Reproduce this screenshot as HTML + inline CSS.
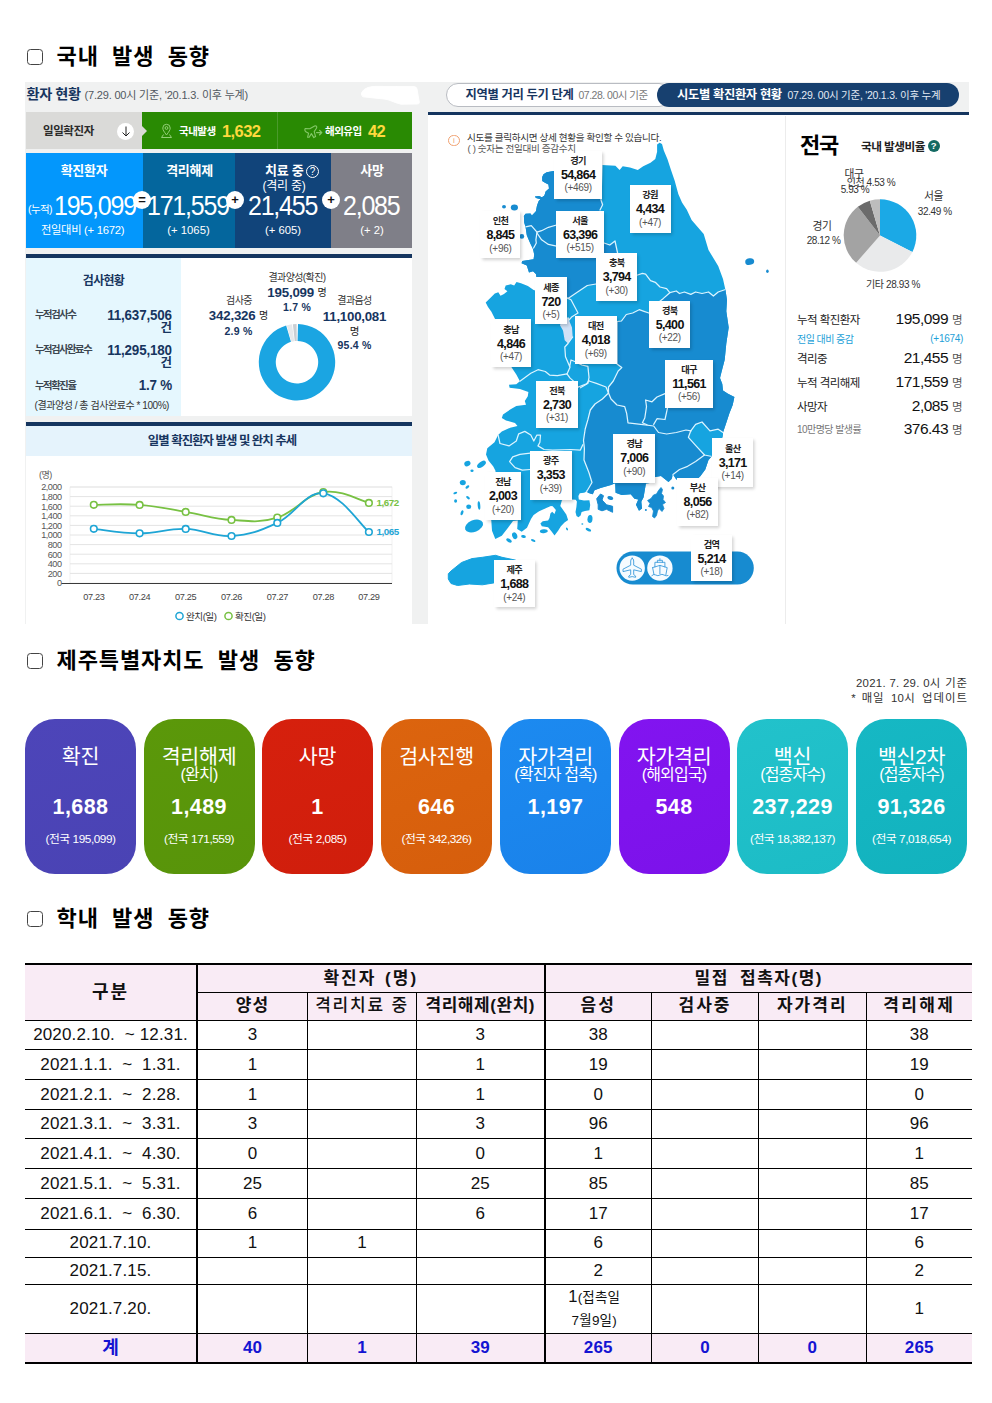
<!DOCTYPE html>
<html lang="ko">
<head>
<meta charset="utf-8">
<title>코로나19 발생 동향</title>
<style>
*{box-sizing:border-box;margin:0;padding:0}
html,body{width:992px;height:1403px;background:#fff;overflow:hidden}
body{position:relative;font-family:"Liberation Sans","Noto Sans CJK KR",sans-serif;color:#111;-webkit-font-smoothing:antialiased}
.abs{position:absolute}
.kr{font-family:"Liberation Sans","Noto Sans CJK KR",sans-serif}
/* headings */
.h{position:absolute;left:56.5px;font-size:22px;font-weight:700;letter-spacing:0.9px;word-spacing:6.3px;line-height:24px;color:#000;white-space:nowrap}
.cb{position:absolute;left:27px;width:16px;height:16px;border:1.3px solid #444;border-radius:3.5px;background:#fff}
/* top dashboard */
#dash{position:absolute;left:25px;top:82px;width:944px;height:542px;background:#f0f1f1;overflow:hidden}
#dash .t{position:absolute;white-space:nowrap;line-height:1}
.c{transform:translateX(-50%)}
/* cards */
.card{position:absolute;top:719px;width:111px;height:154.5px;border-radius:30px;color:#fff;text-align:center}
.card .ti{position:absolute;left:-20px;right:-20px;top:26px;font-size:20.6px;line-height:24px;letter-spacing:-0.3px}
.card .su{position:absolute;left:-20px;right:-20px;top:46px;font-size:16px;line-height:20px;letter-spacing:-0.8px}
.card .nu{position:absolute;left:-20px;right:-20px;top:75px;font-size:21.5px;font-weight:700;line-height:26px;letter-spacing:0.4px}
.card .na{position:absolute;left:-20px;right:-20px;top:113px;font-size:11.8px;line-height:14px;letter-spacing:-0.45px}
/* table */
#tb{position:absolute;left:25px;top:963px;width:947px;border-collapse:collapse;table-layout:fixed;font-size:17px;letter-spacing:0.15px;color:#111}
#tb td,#tb th{border:1px solid #000;text-align:center;vertical-align:middle;padding:0;line-height:20px;font-weight:400;white-space:nowrap;overflow:hidden}
#tb th{background:#f9ebf5;font-weight:700;font-size:17px;letter-spacing:1.2px}
#tb tr.tot td{background:#f9ebf5;color:#1414d2;font-weight:700}
#tb .bl{border-left:2px solid #000}
#tb .br{border-right:2px solid #000}
#tb td:first-child,#tb th:first-child{border-left:none}
#tb td:last-child,#tb th:last-child{border-right:none}
</style>
</head>
<body>

<!-- ===== Heading 1 ===== -->
<div class="cb" style="top:49px"></div>
<div class="h" style="top:44.5px">국내 발생 동향</div>

<!-- ===== Dashboard ===== -->
<div id="dash">
<div id="L" style="position:absolute;left:-25px;top:-82px;width:992px;height:800px">
<style>
#L .t{position:absolute;white-space:nowrap;line-height:1}
#L .w{color:#fff}
#L .nv{color:#17355f}
#L .big{font-size:27px;letter-spacing:-1.3px;color:#fff;font-weight:400;transform:scaleX(.925);transform-origin:left center;margin-top:1.5px;margin-left:-1.5px}
#L .circ{position:absolute;width:18px;height:18px;border-radius:50%;background:#fff;color:#111;font-weight:700;font-size:13px;line-height:17px;text-align:center}
</style>
<!-- white panels -->
<div class="abs" style="left:26px;top:257px;width:386px;height:159px;background:#fff"></div>
<div class="abs" style="left:26px;top:456px;width:386px;height:168px;background:#fff"></div>
<!-- header -->
<div class="t nv" style="left:26.5px;top:86.5px;font-size:14.2px;font-weight:700;letter-spacing:-0.4px">환자 현황</div>
<div class="t" style="left:84.5px;top:89.5px;font-size:11px;color:#505860;letter-spacing:-0.18px">(7.29. 00시 기준, '20.1.3. 이후 누계)</div>
<svg class="abs" style="left:336px;top:82px" width="90" height="28" viewBox="0 0 90 28"><path d="M25.5 11 Q27 7 32 5.5 Q36 4.3 40 4.4 L78 4.6 Q80.8 4.8 81 7 L82.2 14 L83.4 20.6 Q83.4 22 81 22 L65 22.2 Q60 21 56 19.2 Q52 17.4 48 17 L40 16.2 L27 14.8 Q25 14 25.5 11 Z" fill="#fff" stroke="#fff" stroke-width="1" stroke-linejoin="round"/></svg>
<!-- daily bar -->
<div class="abs" style="left:26px;top:112px;width:116px;height:36.6px;background:#dadad8"></div>
<div class="abs" style="left:142px;top:112px;width:270px;height:36.6px;background:#298a03"></div>
<div class="abs" style="left:142px;top:126px;width:0;height:0;border-top:5px solid transparent;border-bottom:5px solid transparent;border-left:5px solid #dadad8"></div>
<div class="abs" style="left:277px;top:112px;width:1px;height:36.6px;background:#4a9a2c"></div>
<div class="t" style="left:43px;top:125.5px;font-size:11.5px;font-weight:700;color:#2b2b2b;letter-spacing:-0.4px">일일확진자</div>
<div class="circ" style="left:117px;top:122.8px;width:17px;height:17px"></div><svg class="abs" style="left:120.5px;top:126px" width="10" height="11" viewBox="0 0 10 11" fill="none" stroke="#222" stroke-width="1"><path d="M5 0.5 V10 M1.5 6.5 L5 10 L8.5 6.5"/></svg>
<svg class="abs" style="left:160px;top:123px" width="13" height="16" viewBox="0 0 13 16" fill="none" stroke="#93cf78" stroke-width="1"><path d="M6.5 12 C4 8.5 2.8 7 2.8 5 A3.7 3.7 0 0 1 10.2 5 C10.2 7 9 8.5 6.5 12 Z"/><circle cx="6.5" cy="5" r="1.4"/><path d="M3.5 11.5 L1.5 14.5 H11.5 L9.5 11.5"/></svg>
<div class="t w" style="left:179px;top:126px;font-size:10.5px;font-weight:700;letter-spacing:-0.5px">국내발생</div>
<div class="t" style="left:222px;top:123px;font-size:16.5px;font-weight:700;color:#ffd93e;letter-spacing:-0.6px">1,632</div>
<svg class="abs" style="left:303.5px;top:124px" width="20" height="16" viewBox="0 0 20 16" fill="none" stroke="#84c868" stroke-width="1.1" stroke-linejoin="round" stroke-linecap="round"><path d="M1.2 4.6 L5.8 4.8 L10.6 2 Q13.2 1.4 12.6 4 L10.2 7.6 L11.6 12.6 L9.8 13.6 L7.4 9.6 L5.2 13.2 L3.6 13.2 L4.6 9.2 L1.4 7.4 Q0.4 6 1.2 4.6 Z"/><path d="M12.6 8.6 H17.6 M15.6 6.4 L17.8 8.6 L15.6 10.8" stroke-width="1.3"/></svg>
<div class="t w" style="left:325px;top:126px;font-size:10.5px;font-weight:700;letter-spacing:-0.5px">해외유입</div>
<div class="t" style="left:368px;top:123px;font-size:16.5px;font-weight:700;color:#ffd93e;letter-spacing:-0.6px">42</div>
<!-- four boxes -->
<div class="abs" style="left:26px;top:153px;width:116.7px;height:94.5px;background:#0397fc"></div>
<div class="abs" style="left:142.7px;top:153px;width:92.3px;height:94.5px;background:#04669d"></div>
<div class="abs" style="left:235px;top:153px;width:96px;height:94.5px;background:#11447a"></div>
<div class="abs" style="left:331px;top:153px;width:81px;height:94.5px;background:#7f7f88"></div>
<div class="t w c" style="left:84px;top:164px;font-size:13px;font-weight:700;letter-spacing:-0.3px">확진환자</div>
<div class="t w c" style="left:189.5px;top:164px;font-size:13px;font-weight:700;letter-spacing:-0.3px">격리해제</div>
<div class="t w" style="left:265px;top:164px;font-size:13px;font-weight:700;letter-spacing:-0.3px">치료 중</div>
<div class="abs" style="left:306px;top:165px;width:13px;height:13px;border:1px solid #fff;border-radius:50%;color:#fff;font-size:10px;line-height:11px;text-align:center">?</div>
<div class="t w c" style="left:284px;top:179.5px;font-size:12px;letter-spacing:-0.2px">(격리 중)</div>
<div class="t w c" style="left:372px;top:164px;font-size:13px;font-weight:700;letter-spacing:-0.3px">사망</div>
<div class="t w" style="left:28px;top:204px;font-size:10.5px;letter-spacing:-0.6px">(누적)</div>
<div class="t big" style="left:55.5px;top:191.5px">195,099</div>
<div class="t big" style="left:148.5px;top:191.5px">171,559</div>
<div class="t big" style="left:249px;top:191.5px">21,455</div>
<div class="t big" style="left:344px;top:191.5px">2,085</div>
<div class="t w c" style="left:82.5px;top:225px;font-size:11.3px;letter-spacing:-0.3px">전일대비 (+ 1672)</div>
<div class="t w c" style="left:188.5px;top:225px;font-size:11.3px">(+ 1065)</div>
<div class="t w c" style="left:283px;top:225px;font-size:11.3px">(+ 605)</div>
<div class="t w c" style="left:372px;top:225px;font-size:11.3px">(+ 2)</div>
<div class="circ" style="left:133px;top:191.2px">=</div>
<div class="circ" style="left:226px;top:191.2px">+</div>
<div class="circ" style="left:322px;top:191.2px">+</div>
<!-- navy rule + test box -->
<div class="abs" style="left:26px;top:254px;width:386px;height:3.5px;background:#15355f"></div>
<div class="abs" style="left:26px;top:257.5px;width:155px;height:158px;background:#e5f7fe"></div>
<div class="t nv c" style="left:103.5px;top:274.5px;font-size:12px;font-weight:700;letter-spacing:-0.7px">검사현황</div>
<div class="t" style="left:35px;top:310px;font-size:10.3px;font-weight:700;color:#3c4650;letter-spacing:-1.35px">누적검사수</div>
<div class="t nv" style="right:820px;top:306.5px;font-size:14.5px;font-weight:700;letter-spacing:-0.2px;transform:scaleX(.925);transform-origin:right center;margin-top:1px">11,637,506</div>
<div class="t nv" style="right:820px;top:321.5px;font-size:12.5px;font-weight:700">건</div>
<div class="t" style="left:35px;top:345px;font-size:10.3px;font-weight:700;color:#3c4650;letter-spacing:-1.45px">누적검사완료수</div>
<div class="t nv" style="right:820px;top:342px;font-size:14.5px;font-weight:700;letter-spacing:-0.2px;transform:scaleX(.925);transform-origin:right center;margin-top:1px">11,295,180</div>
<div class="t nv" style="right:820px;top:356.5px;font-size:12.5px;font-weight:700">건</div>
<div class="t" style="left:35px;top:380.5px;font-size:10.3px;font-weight:700;color:#3c4650;letter-spacing:-1.35px">누적확진율</div>
<div class="t nv" style="right:820px;top:377.5px;font-size:14.5px;font-weight:700;letter-spacing:-0.2px;transform:scaleX(.925);transform-origin:right center;margin-top:0px">1.7 %</div>
<div class="t" style="left:34.5px;top:400.5px;font-size:10px;color:#333;letter-spacing:-0.45px">(결과양성 / 총 검사완료수 * 100%)</div>
<svg class="abs" style="left:0;top:0" width="992" height="700" viewBox="0 0 992 700"><path d="M298.00 324.01 A38.2 38.2 0 1 1 286.15 325.57 L290.98 341.87 A21.2 21.2 0 1 0 297.55 341.01 Z" fill="#1ba5e2"/><path d="M286.79 325.39 A38.2 38.2 0 0 1 292.01 324.33 L294.23 341.18 A21.2 21.2 0 0 0 291.33 341.77 Z" fill="#e6e9ec"/><path d="M292.87 324.22 A38.2 38.2 0 0 1 296.60 324.00 L296.78 341.00 A21.2 21.2 0 0 0 294.71 341.12 Z" fill="#c9ced3"/></svg>
<div class="t c" style="left:297px;top:272.5px;font-size:10px;color:#333;letter-spacing:-0.6px">결과양성(확진)</div>
<div class="t nv c" style="left:297px;top:285.5px;font-size:13.3px;font-weight:700;letter-spacing:-0.2px">195,099 <span style="font-size:10px;font-weight:400;color:#222;letter-spacing:0;position:relative;top:-1px">명</span></div>
<div class="t nv c" style="left:297px;top:302px;font-size:10.5px;font-weight:700;letter-spacing:0.2px">1.7 %</div>
<div class="t c" style="left:239px;top:296px;font-size:10px;color:#333;letter-spacing:-0.6px">검사중</div>
<div class="t nv c" style="left:238.5px;top:309px;font-size:13.3px;font-weight:700;letter-spacing:-0.2px">342,326 <span style="font-size:10px;font-weight:400;color:#222;letter-spacing:0;position:relative;top:-1px">명</span></div>
<div class="t nv c" style="left:238.5px;top:326px;font-size:10.5px;font-weight:700;letter-spacing:0.2px">2.9 %</div>
<div class="t c" style="left:354.5px;top:296px;font-size:10px;color:#333;letter-spacing:-0.6px">결과음성</div>
<div class="t nv c" style="left:354.5px;top:309.5px;font-size:13.3px;font-weight:700;letter-spacing:-0.25px">11,100,081</div>
<div class="t c" style="left:354.5px;top:326px;font-size:10.5px;color:#222">명</div>
<div class="t nv c" style="left:354.5px;top:339.5px;font-size:10.5px;font-weight:700;letter-spacing:0.2px">95.4 %</div>

<!-- chart title -->
<div class="abs" style="left:26px;top:421.7px;width:386px;height:4px;background:#15355f"></div>
<div class="abs" style="left:26px;top:425.7px;width:386px;height:30.4px;background:#e5f3fc"></div>
<div class="t nv c" style="left:222px;top:434.6px;font-size:12.4px;font-weight:700;letter-spacing:-0.95px">일별 확진환자 발생 및 완치 추세</div>
<!--CHART_START--><svg class="abs" style="left:0;top:0" width="992" height="700" viewBox="0 0 992 700" font-family="Liberation Sans, Noto Sans CJK KR, sans-serif"><rect x="70" y="487.0" width="322" height="96.0" fill="#fff" stroke="#e6e6e6" stroke-width="0.6"/><line x1="70" x2="392" y1="573.4" y2="573.4" stroke="#e4e4e4" stroke-width="1"/><line x1="70" x2="392" y1="563.8" y2="563.8" stroke="#e4e4e4" stroke-width="1"/><line x1="70" x2="392" y1="554.2" y2="554.2" stroke="#e4e4e4" stroke-width="1"/><line x1="70" x2="392" y1="544.6" y2="544.6" stroke="#e4e4e4" stroke-width="1"/><line x1="70" x2="392" y1="535.0" y2="535.0" stroke="#e4e4e4" stroke-width="1"/><line x1="70" x2="392" y1="525.4" y2="525.4" stroke="#e4e4e4" stroke-width="1"/><line x1="70" x2="392" y1="515.8" y2="515.8" stroke="#e4e4e4" stroke-width="1"/><line x1="70" x2="392" y1="506.2" y2="506.2" stroke="#e4e4e4" stroke-width="1"/><line x1="70" x2="392" y1="496.6" y2="496.6" stroke="#e4e4e4" stroke-width="1"/><line x1="70" x2="392" y1="487.0" y2="487.0" stroke="#e4e4e4" stroke-width="1"/><text x="61.5" y="586.3" font-size="9.1" fill="#555" text-anchor="end" letter-spacing="-0.5">0</text><text x="61.5" y="576.7" font-size="9.1" fill="#555" text-anchor="end" letter-spacing="-0.5">200</text><text x="61.5" y="567.1" font-size="9.1" fill="#555" text-anchor="end" letter-spacing="-0.5">400</text><text x="61.5" y="557.5" font-size="9.1" fill="#555" text-anchor="end" letter-spacing="-0.5">600</text><text x="61.5" y="547.9" font-size="9.1" fill="#555" text-anchor="end" letter-spacing="-0.5">800</text><text x="61.5" y="538.3" font-size="9.1" fill="#555" text-anchor="end" letter-spacing="-0.5">1,000</text><text x="61.5" y="528.7" font-size="9.1" fill="#555" text-anchor="end" letter-spacing="-0.5">1,200</text><text x="61.5" y="519.1" font-size="9.1" fill="#555" text-anchor="end" letter-spacing="-0.5">1,400</text><text x="61.5" y="509.5" font-size="9.1" fill="#555" text-anchor="end" letter-spacing="-0.5">1,600</text><text x="61.5" y="499.9" font-size="9.1" fill="#555" text-anchor="end" letter-spacing="-0.5">1,800</text><text x="61.5" y="490.3" font-size="9.1" fill="#555" text-anchor="end" letter-spacing="-0.5">2,000</text><line x1="61.5" x2="392" y1="583.5" y2="583.5" stroke="#3a3a3a" stroke-width="1"/><text x="39" y="478" font-size="9" fill="#555" letter-spacing="-0.5">(명)</text><text x="93.8" y="600.2" font-size="9.2" fill="#444" text-anchor="middle" letter-spacing="-0.35">07.23</text><text x="139.6" y="600.2" font-size="9.2" fill="#444" text-anchor="middle" letter-spacing="-0.35">07.24</text><text x="185.7" y="600.2" font-size="9.2" fill="#444" text-anchor="middle" letter-spacing="-0.35">07.25</text><text x="231.5" y="600.2" font-size="9.2" fill="#444" text-anchor="middle" letter-spacing="-0.35">07.26</text><text x="277.3" y="600.2" font-size="9.2" fill="#444" text-anchor="middle" letter-spacing="-0.35">07.27</text><text x="323.3" y="600.2" font-size="9.2" fill="#444" text-anchor="middle" letter-spacing="-0.35">07.28</text><text x="368.9" y="600.2" font-size="9.2" fill="#444" text-anchor="middle" letter-spacing="-0.35">07.29</text><path d="M93.8 504.8 C103.0 504.8 121.2 503.4 139.6 504.9 C158.0 506.3 167.3 508.8 185.7 511.9 C204.1 514.9 213.2 518.8 231.5 519.9 C249.8 521.1 258.9 523.2 277.3 517.6 C295.7 512.0 305.0 494.9 323.3 492.0 C341.6 489.1 359.8 500.7 368.9 502.9" fill="none" stroke="#78c143" stroke-width="1.8"/><path d="M93.8 528.8 C103.0 529.7 121.2 533.3 139.6 533.3 C158.0 533.3 167.3 528.3 185.7 528.9 C204.1 529.4 213.2 537.2 231.5 536.0 C249.8 534.8 258.9 531.4 277.3 522.9 C295.7 514.4 305.0 491.5 323.3 493.3 C341.6 495.2 359.8 524.2 368.9 532.0" fill="none" stroke="#1ea5d5" stroke-width="1.8"/><circle cx="93.8" cy="504.8" r="3.3" fill="#fff" stroke="#78c143" stroke-width="1.6"/><circle cx="139.6" cy="504.9" r="3.3" fill="#fff" stroke="#78c143" stroke-width="1.6"/><circle cx="185.7" cy="511.9" r="3.3" fill="#fff" stroke="#78c143" stroke-width="1.6"/><circle cx="231.5" cy="519.9" r="3.3" fill="#fff" stroke="#78c143" stroke-width="1.6"/><circle cx="277.3" cy="517.6" r="3.3" fill="#fff" stroke="#78c143" stroke-width="1.6"/><circle cx="323.3" cy="492.0" r="3.3" fill="#fff" stroke="#78c143" stroke-width="1.6"/><circle cx="368.9" cy="502.9" r="3.3" fill="#fff" stroke="#78c143" stroke-width="1.6"/><circle cx="93.8" cy="528.8" r="3.3" fill="#fff" stroke="#1ea5d5" stroke-width="1.6"/><circle cx="139.6" cy="533.3" r="3.3" fill="#fff" stroke="#1ea5d5" stroke-width="1.6"/><circle cx="185.7" cy="528.9" r="3.3" fill="#fff" stroke="#1ea5d5" stroke-width="1.6"/><circle cx="231.5" cy="536.0" r="3.3" fill="#fff" stroke="#1ea5d5" stroke-width="1.6"/><circle cx="277.3" cy="522.9" r="3.3" fill="#fff" stroke="#1ea5d5" stroke-width="1.6"/><circle cx="323.3" cy="493.3" r="3.3" fill="#fff" stroke="#1ea5d5" stroke-width="1.6"/><circle cx="368.9" cy="532.0" r="3.3" fill="#fff" stroke="#1ea5d5" stroke-width="1.6"/><text x="376.5" y="505.6" font-size="9.8" font-weight="700" fill="#78c143" letter-spacing="-0.45">1,672</text><text x="376.5" y="534.7" font-size="9.8" font-weight="700" fill="#1ea5d5" letter-spacing="-0.45">1,065</text><circle cx="179.5" cy="616" r="3.6" fill="#fff" stroke="#1ea5d5" stroke-width="1.5"/><text x="186" y="619.6" font-size="9.6" fill="#333" letter-spacing="-0.5">완치(일)</text><circle cx="228.5" cy="616" r="3.6" fill="#fff" stroke="#78c143" stroke-width="1.5"/><text x="235" y="619.6" font-size="9.6" fill="#333" letter-spacing="-0.5">확진(일)</text></svg><!--CHART_END-->

</div>

<!--RIGHT_START--><div id="R" style="position:absolute;left:-25px;top:-82px;width:992px;height:800px">
<div class="abs" style="left:428.4px;top:112px;width:540.6px;height:512px;background:#fff"></div>
<div class="abs" style="left:428.4px;top:111.7px;width:540.6px;height:3.6px;background:#15355f"></div>
<div class="abs" style="left:784.5px;top:116px;width:1px;height:508px;background:#ececec"></div>
<div class="abs" style="left:446px;top:83px;width:225px;height:23.5px;border:1px solid #b9bcc2;border-radius:12px;background:#fff"></div>
<div class="abs" style="left:656.5px;top:82.5px;width:302px;height:24.3px;border-radius:12.2px;background:#17406f"></div>
<style>
#R .t{position:absolute;white-space:nowrap;line-height:1}
#R .lb{position:absolute;background:#fff;box-shadow:1.5px 2px 3px rgba(0,0,0,.18);text-align:center}
#R .lb b{display:block;font-size:9.2px;font-weight:700;line-height:11px;margin-top:5.2px;color:#222;letter-spacing:-0.7px}
#R .lb i{display:block;font-style:normal;font-size:12.5px;font-weight:700;line-height:14px;margin-top:1.1px;color:#111;letter-spacing:-0.65px}
#R .lb s{display:block;text-decoration:none;font-size:10px;line-height:12px;margin-top:0.3px;color:#555;letter-spacing:-0.3px}
#R .sl{position:absolute;left:797px;font-size:11.5px;color:#222;letter-spacing:-0.55px;white-space:nowrap;line-height:1}
#R .sv{position:absolute;right:29.5px;font-size:15.5px;color:#111;letter-spacing:-0.5px;white-space:nowrap;line-height:1}
#R .sv span{font-size:11.5px;color:#555;letter-spacing:0;margin-left:0px}
</style>
<svg class="abs" style="left:0;top:0" width="992" height="700" viewBox="0 0 992 700">
<defs><clipPath id="mc"><path d="M542.2 177.1 L543.5 174.3 L546.7 172.3 L553.5 171.0 L575.0 168.0 L602.0 165.0 L615.4 165.7 L619.6 170.0 L622.7 166.3 L630.0 167.5 L637.8 170.0 L643.2 166.3 L650.5 162.7 L655.3 159.0 L657.1 151.8 L657.1 144.5 L659.6 142.7 L662.0 144.0 L663.8 150.6 L667.4 159.0 L671.0 170.0 L674.7 180.8 L678.3 194.0 L682.0 202.6 L686.8 209.8 L691.6 220.0 L703.7 233.9 L708.5 250.0 L718.2 266.0 L723.0 279.0 L725.5 290.3 L727.0 300.0 L726.3 311.3 L728.7 327.4 L726.3 343.5 L724.7 359.7 L721.5 372.0 L720.0 378.0 L722.3 384.0 L723.0 390.5 L728.0 393.7 L734.4 397.0 L732.7 405.0 L729.5 413.0 L726.3 422.8 L723.0 432.5 L722.3 437.3 L718.0 448.0 L712.0 456.0 L708.5 459.9 L705.3 469.5 L700.5 476.0 L697.0 479.5 L692.0 484.0 L686.0 480.0 L676.3 479.5 L673.0 474.5 L671.6 479.0 L668.5 482.0 L661.0 476.0 L655.2 477.0 L650.0 483.0 L645.9 483.6 L643.6 497.2 L641.3 501.8 L642.0 508.6 L639.0 510.8 L636.0 504.8 L638.3 499.5 L634.5 498.7 L630.7 494.2 L621.7 495.0 L615.6 492.7 L615.2 483.3 L611.0 485.0 L600.5 488.0 L594.5 490.3 L592.8 494.3 L589.0 493.2 L586.3 491.8 L584.0 492.7 L579.8 493.2 L578.4 496.0 L578.8 499.4 L584.0 500.4 L589.4 500.2 L590.2 505.0 L589.4 510.3 L585.0 511.0 L581.6 512.0 L580.6 515.5 L578.5 517.3 L576.5 516.0 L575.5 512.0 L576.4 507.0 L576.9 501.5 L575.6 499.7 L571.8 499.5 L566.0 499.0 L561.9 500.3 L560.3 506.0 L566.3 514.5 L568.1 520.0 L564.5 522.6 L560.9 526.3 L558.1 530.8 L554.5 535.4 L551.8 531.7 L548.1 527.2 L541.8 526.3 L540.4 523.6 L542.7 521.3 L548.1 520.4 L549.5 518.1 L550.4 513.6 L552.2 511.8 L554.5 514.0 L555.9 510.0 L552.7 506.3 L550.9 505.9 L546.3 508.1 L539.1 511.3 L533.6 514.9 L531.0 519.0 L527.0 527.8 L521.7 531.7 L517.2 529.0 L517.8 520.6 L513.0 521.0 L508.2 527.6 L501.8 535.7 L495.3 539.0 L492.0 530.8 L491.3 520.4 L488.0 512.0 L490.0 500.0 L487.0 485.0 L495.7 471.3 L493.3 466.4 L488.5 460.4 L486.0 454.4 L487.3 448.3 L494.5 442.3 L498.1 435.0 L501.8 431.4 L510.2 427.7 L517.5 426.0 L515.0 423.0 L506.0 420.5 L501.8 418.0 L503.0 414.4 L510.2 409.6 L516.3 406.0 L526.0 404.8 L524.8 401.1 L527.8 396.3 L528.4 392.0 L519.9 389.0 L509.6 387.8 L509.0 384.8 L516.3 384.2 L519.9 381.2 L516.3 374.5 L512.0 367.9 L504.0 355.0 L498.0 340.0 L495.3 319.4 L491.4 311.7 L488.0 307.1 L485.7 302.6 L490.3 298.0 L494.8 293.5 L498.3 292.3 L500.5 295.7 L504.0 294.0 L507.4 291.2 L504.5 288.9 L505.7 285.5 L510.8 284.3 L514.2 285.5 L516.5 282.0 L521.0 283.2 L527.9 286.0 L533.6 290.0 L537.0 291.0 L539.0 285.0 L536.5 277.5 L535.9 274.1 L533.0 271.2 L529.0 272.4 L526.8 265.5 L521.6 263.2 L522.2 260.9 L533.6 259.2 L534.2 254.6 L533.0 249.0 L530.2 243.3 L526.8 235.3 L525.6 227.3 L524.2 222.5 L523.9 216.0 L525.5 213.8 L530.5 213.6 L531.9 215.5 L535.9 211.3 L537.0 205.6 L538.7 201.0 L540.5 199.2 L536.0 198.0 L534.8 196.6 L539.0 196.0 L542.0 197.2 L544.4 195.4 L545.6 191.4 L549.0 188.5 L548.4 184.5 L545.0 182.8 L542.2 181.1 Z"/></clipPath></defs>
<path d="M542.2 177.1 L543.5 174.3 L546.7 172.3 L553.5 171.0 L575.0 168.0 L602.0 165.0 L615.4 165.7 L619.6 170.0 L622.7 166.3 L630.0 167.5 L637.8 170.0 L643.2 166.3 L650.5 162.7 L655.3 159.0 L657.1 151.8 L657.1 144.5 L659.6 142.7 L662.0 144.0 L663.8 150.6 L667.4 159.0 L671.0 170.0 L674.7 180.8 L678.3 194.0 L682.0 202.6 L686.8 209.8 L691.6 220.0 L703.7 233.9 L708.5 250.0 L718.2 266.0 L723.0 279.0 L725.5 290.3 L727.0 300.0 L726.3 311.3 L728.7 327.4 L726.3 343.5 L724.7 359.7 L721.5 372.0 L720.0 378.0 L722.3 384.0 L723.0 390.5 L728.0 393.7 L734.4 397.0 L732.7 405.0 L729.5 413.0 L726.3 422.8 L723.0 432.5 L722.3 437.3 L718.0 448.0 L712.0 456.0 L708.5 459.9 L705.3 469.5 L700.5 476.0 L697.0 479.5 L692.0 484.0 L686.0 480.0 L676.3 479.5 L673.0 474.5 L671.6 479.0 L668.5 482.0 L661.0 476.0 L655.2 477.0 L650.0 483.0 L645.9 483.6 L643.6 497.2 L641.3 501.8 L642.0 508.6 L639.0 510.8 L636.0 504.8 L638.3 499.5 L634.5 498.7 L630.7 494.2 L621.7 495.0 L615.6 492.7 L615.2 483.3 L611.0 485.0 L600.5 488.0 L594.5 490.3 L592.8 494.3 L589.0 493.2 L586.3 491.8 L584.0 492.7 L579.8 493.2 L578.4 496.0 L578.8 499.4 L584.0 500.4 L589.4 500.2 L590.2 505.0 L589.4 510.3 L585.0 511.0 L581.6 512.0 L580.6 515.5 L578.5 517.3 L576.5 516.0 L575.5 512.0 L576.4 507.0 L576.9 501.5 L575.6 499.7 L571.8 499.5 L566.0 499.0 L561.9 500.3 L560.3 506.0 L566.3 514.5 L568.1 520.0 L564.5 522.6 L560.9 526.3 L558.1 530.8 L554.5 535.4 L551.8 531.7 L548.1 527.2 L541.8 526.3 L540.4 523.6 L542.7 521.3 L548.1 520.4 L549.5 518.1 L550.4 513.6 L552.2 511.8 L554.5 514.0 L555.9 510.0 L552.7 506.3 L550.9 505.9 L546.3 508.1 L539.1 511.3 L533.6 514.9 L531.0 519.0 L527.0 527.8 L521.7 531.7 L517.2 529.0 L517.8 520.6 L513.0 521.0 L508.2 527.6 L501.8 535.7 L495.3 539.0 L492.0 530.8 L491.3 520.4 L488.0 512.0 L490.0 500.0 L487.0 485.0 L495.7 471.3 L493.3 466.4 L488.5 460.4 L486.0 454.4 L487.3 448.3 L494.5 442.3 L498.1 435.0 L501.8 431.4 L510.2 427.7 L517.5 426.0 L515.0 423.0 L506.0 420.5 L501.8 418.0 L503.0 414.4 L510.2 409.6 L516.3 406.0 L526.0 404.8 L524.8 401.1 L527.8 396.3 L528.4 392.0 L519.9 389.0 L509.6 387.8 L509.0 384.8 L516.3 384.2 L519.9 381.2 L516.3 374.5 L512.0 367.9 L504.0 355.0 L498.0 340.0 L495.3 319.4 L491.4 311.7 L488.0 307.1 L485.7 302.6 L490.3 298.0 L494.8 293.5 L498.3 292.3 L500.5 295.7 L504.0 294.0 L507.4 291.2 L504.5 288.9 L505.7 285.5 L510.8 284.3 L514.2 285.5 L516.5 282.0 L521.0 283.2 L527.9 286.0 L533.6 290.0 L537.0 291.0 L539.0 285.0 L536.5 277.5 L535.9 274.1 L533.0 271.2 L529.0 272.4 L526.8 265.5 L521.6 263.2 L522.2 260.9 L533.6 259.2 L534.2 254.6 L533.0 249.0 L530.2 243.3 L526.8 235.3 L525.6 227.3 L524.2 222.5 L523.9 216.0 L525.5 213.8 L530.5 213.6 L531.9 215.5 L535.9 211.3 L537.0 205.6 L538.7 201.0 L540.5 199.2 L536.0 198.0 L534.8 196.6 L539.0 196.0 L542.0 197.2 L544.4 195.4 L545.6 191.4 L549.0 188.5 L548.4 184.5 L545.0 182.8 L542.2 181.1 Z" fill="#16a4e0"/>
<g clip-path="url(#mc)"><path d="M530.0 150.0 L602.0 150.0 L602.0 165.0 L601.0 200.0 L602.6 204.8 L600.0 210.0 L602.0 230.0 L604.0 243.0 L609.8 245.0 L615.0 241.0 L618.0 255.0 L615.0 262.0 L605.0 275.0 L596.0 284.0 L587.3 285.5 L577.6 292.0 L568.0 298.4 L555.0 292.0 L545.0 283.0 L536.5 278.0 L515.0 280.0 L515.0 150.0 Z" fill="#178bd0"/><path d="M740.0 289.5 L725.5 289.5 L718.2 292.0 L713.4 296.0 L708.5 292.0 L702.0 293.5 L695.6 292.0 L690.8 294.4 L684.4 292.0 L679.5 293.5 L676.3 291.0 L669.8 292.7 L663.4 298.4 L655.0 305.0 L648.9 313.0 L644.0 311.3 L639.2 309.7 L632.7 313.0 L626.3 314.5 L621.5 321.0 L617.0 321.5 L617.0 364.0 L621.8 367.6 L618.2 371.0 L613.3 381.0 L608.5 387.0 L608.5 393.0 L602.4 399.0 L595.0 404.0 L590.3 410.0 L587.9 419.7 L585.2 429.0 L583.5 440.3 L584.4 448.4 L584.0 460.0 L589.0 472.8 L592.0 482.5 L587.3 490.5 L586.3 491.8 L589.0 493.2 L592.8 495.0 L592.8 545.0 L760.0 545.0 L760.0 289.5 Z" fill="#178bd0"/><path d="M690.8 430.8 L695.6 424.4 L702.0 422.0 L710.0 430.8 L718.2 429.2 L723.0 432.5 L724.0 438.0 L719.0 448.0 L713.0 457.0 L704.5 455.0 L695.6 445.4 L688.4 437.3 Z" fill="#16a4e0"/><path d="M559.8 325.0 L563.0 321.0 L568.0 317.7 L572.0 327.4 L572.7 337.0 L568.0 343.5 L564.7 340.3 L563.0 330.6 Z" fill="#cfe1f6"/>
<g fill="none" stroke="#dcf4ff" stroke-width="1.25" stroke-linejoin="round" stroke-linecap="round"><path d="M725.5 289.5 L718.2 292.0 L713.4 296.0 L708.5 292.0 L702.0 293.5 L695.6 292.0 L690.8 294.4 L684.4 292.0 L679.5 293.5 L676.3 291.0 L669.8 292.7 L663.4 298.4 L655.0 305.0"/><path d="M669.8 292.7 L666.6 288.7 L660.0 287.0 L655.3 282.3 L650.5 280.6 L645.6 274.2 L642.4 273.4 L637.6 275.0"/><path d="M648.9 313.0 L644.0 311.3 L639.2 309.7 L632.7 313.0 L626.3 314.5 L621.5 321.0 L617.0 321.5 L617.0 364.0 L621.8 367.6 L618.2 371.0 L613.3 381.0 L608.5 387.0 L608.5 393.0"/><path d="M608.5 393.0 L602.4 399.0 L595.0 404.0 L590.3 410.0 L587.9 419.7 L585.2 429.0 L583.5 440.3 L584.4 448.4 L584.0 460.0 L589.0 472.8 L592.0 482.5 L587.3 490.5 L586.3 491.8"/><path d="M608.5 393.0 L611.0 399.0 L617.0 405.0 L624.7 406.6 L626.7 413.6 L628.0 422.8 L640.8 424.4 L653.7 426.0 L658.5 432.5 L666.6 434.0 L676.3 432.5 L686.0 430.0 L690.8 430.8"/><path d="M690.8 430.8 L695.6 424.4 L702.0 422.0 L710.0 430.8 L718.2 429.2 L723.0 432.5"/><path d="M690.8 430.8 L688.4 437.3 L695.6 445.4 L704.5 455.0 L712.0 456.5"/><path d="M704.5 455.0 L695.6 461.5 L687.6 466.3 L679.5 469.5 L673.0 474.4 L672.5 481.0"/><path d="M665.0 393.7 L657.0 397.0 L652.0 401.8 L645.6 400.0 L646.5 406.6 L644.8 418.0 L642.4 422.8 L647.0 424.8"/><path d="M653.7 424.4 L657.0 418.7 L665.0 419.5 L667.4 408.3"/><path d="M536.5 278.0 L545.0 283.0 L555.0 292.0 L568.0 298.4 L577.6 292.0 L587.3 285.5 L596.0 284.0"/><path d="M602.0 165.0 L601.0 200.0 L602.6 204.8 L600.0 210.0"/><path d="M604.0 243.0 L609.8 245.0 L615.0 241.0 L618.0 255.0"/><path d="M568.0 298.4 L571.0 299.7 L578.0 313.0 L572.0 316.7 L569.0 320.0 L568.0 317.7"/><path d="M572.7 337.0 L568.0 343.5 L564.8 347.0 L565.5 356.7 L569.7 366.4 L571.0 360.0 L576.0 362.0 L581.8 365.0 L587.9 366.4 L589.0 377.3 L587.9 383.3 L578.2 387.0"/><path d="M589.0 381.0 L596.4 383.3 L606.0 387.0 L608.5 393.0"/><path d="M519.9 381.2 L530.8 373.3 L538.0 369.7 L545.3 371.5 L549.6 375.1 L557.4 375.7 L567.0 373.9 L570.1 378.1 L573.0 380.6 L578.2 387.0"/><path d="M567.0 373.9 L570.0 367.3 L569.7 366.4"/><path d="M580.4 387.8 L586.4 384.2 L588.9 380.6"/><path d="M498.1 435.0 L500.0 443.5 L509.0 445.9 L516.3 441.0 L518.7 433.8 L524.8 431.4 L530.8 435.0 L533.8 441.0 L536.9 435.0 L540.5 435.0 L539.9 442.3 L538.0 445.9 L544.1 449.5 L552.6 450.1 L570.7 449.5 L580.4 450.1 L582.8 444.7"/><path d="M530.2 453.1 L519.9 454.4 L512.7 456.8 L509.6 461.6 L515.1 467.7 L522.3 470.1 L530.2 469.5"/><path d="M525.6 226.9 L531.3 225.6 L537.0 232.2 L541.6 230.7 L548.4 227.3 L556.5 225.0"/><path d="M537.0 232.2 L535.9 239.8 L536.3 243.0 L533.6 248.0"/><path d="M537.0 233.0 L541.6 239.8 L548.4 244.4 L556.5 246.2"/></g></g>
<ellipse cx="504" cy="206.8" rx="2" ry="1.7" fill="#178bd0"/><ellipse cx="514.4" cy="207.6" rx="3.6" ry="3" fill="#178bd0"/><ellipse cx="521.8" cy="236.4" rx="2.4" ry="2.4" fill="#178bd0"/><ellipse cx="749.7" cy="261.6" rx="4.5" ry="3.3" fill="#178bd0" transform="rotate(-10 749.7 261.6)"/><ellipse cx="767.4" cy="271.3" rx="1.3" ry="1.8" fill="#178bd0"/><ellipse cx="467.4" cy="463.6" rx="3.2" ry="2.6" fill="#16a4e0" transform="rotate(-30 467.4 463.6)"/><ellipse cx="481.5" cy="464.3" rx="5" ry="2.6" fill="#16a4e0" transform="rotate(-35 481.5 464.3)"/><ellipse cx="472" cy="470.8" rx="1.6" ry="1.2" fill="#16a4e0"/><ellipse cx="462.8" cy="482.6" rx="3" ry="2.6" fill="#16a4e0"/><ellipse cx="467.4" cy="487" rx="2.2" ry="1.3" fill="#16a4e0" transform="rotate(-40 467.4 487)"/><ellipse cx="455.3" cy="493" rx="2" ry="1" fill="#16a4e0" transform="rotate(-20 455.3 493)"/><ellipse cx="455.6" cy="501" rx="1.5" ry="1.8" fill="#16a4e0"/><ellipse cx="468" cy="497.7" rx="2.2" ry="1.2" fill="#16a4e0" transform="rotate(40 468 497.7)"/><ellipse cx="468.7" cy="506.8" rx="2.5" ry="2.2" fill="#16a4e0"/><ellipse cx="462" cy="512.7" rx="1.3" ry="2.6" fill="#16a4e0" transform="rotate(20 462 512.7)"/><ellipse cx="479" cy="505.5" rx="1.3" ry="4.2" fill="#16a4e0" transform="rotate(-5 479 505.5)"/><ellipse cx="474" cy="526" rx="9.5" ry="5.8" fill="#16a4e0" transform="rotate(-22 474 526)"/><ellipse cx="514.7" cy="535.7" rx="2.5" ry="3.5" fill="#16a4e0" transform="rotate(-20 514.7 535.7)"/><ellipse cx="509" cy="540.5" rx="3" ry="1.6" fill="#16a4e0" transform="rotate(30 509 540.5)"/><ellipse cx="523.5" cy="536.5" rx="2.4" ry="1.4" fill="#16a4e0" transform="rotate(10 523.5 536.5)"/><ellipse cx="533.2" cy="540.5" rx="2.4" ry="1.2" fill="#16a4e0" transform="rotate(25 533.2 540.5)"/><ellipse cx="543.8" cy="531.2" rx="4" ry="2" fill="#16a4e0" transform="rotate(-5 543.8 531.2)"/><ellipse cx="567" cy="529" rx="0.8" ry="1.5" fill="#16a4e0" transform="rotate(-30 567 529)"/><ellipse cx="590" cy="519" rx="2.5" ry="4" fill="#16a4e0" transform="rotate(5 590 519)"/><ellipse cx="582.3" cy="524" rx="1" ry="0.8" fill="#16a4e0"/><ellipse cx="588.4" cy="529.7" rx="3" ry="1.4" fill="#16a4e0" transform="rotate(25 588.4 529.7)"/><ellipse cx="589" cy="519.5" rx="1.2" ry="1.2" fill="#16a4e0"/><ellipse cx="610.3" cy="498" rx="3" ry="1.8" fill="#178bd0" transform="rotate(20 610.3 498)"/><ellipse cx="645.9" cy="510" rx="1" ry="1" fill="#178bd0"/><ellipse cx="672.8" cy="488" rx="1.5" ry="1.5" fill="#178bd0"/><path d="M596.7 498.7 L600.5 494.0 L603.5 495.7 L602.0 500.0 L606.5 504.8 L612.6 506.3 L612.6 512.3 L606.5 509.3 L602.0 510.8 L598.2 509.3 L598.2 504.8 Z" fill="#178bd0" stroke="#178bd0" stroke-width="1" stroke-linejoin="round"/><path d="M647.6 500.5 L651.0 498.5 L653.5 495.0 L656.5 494.0 L658.5 490.5 L661.0 487.5 L662.5 489.5 L661.5 493.5 L663.5 496.0 L663.0 499.5 L665.5 502.5 L662.5 504.5 L664.0 508.5 L662.0 511.5 L659.0 508.5 L657.5 511.0 L656.5 515.5 L654.5 518.0 L652.5 516.5 L653.5 511.0 L651.5 507.5 L648.5 506.5 L650.0 503.5 Z" fill="#178bd0" stroke="#178bd0" stroke-width="0.8" stroke-linejoin="round"/>
<path d="M448.3 573.7 L451.0 571.0 L461.5 562.5 L472.0 558.6 L482.4 557.3 L495.5 555.3 L502.0 557.3 L515.0 560.0 L530.0 566.0 L533.0 574.0 L520.0 582.0 L493.8 582.9 L482.4 584.8 L469.3 584.0 L457.5 585.5 L451.0 583.5 L448.3 579.0 Z" fill="#16a4e0" stroke="#16a4e0" stroke-width="1" stroke-linejoin="round"/>
<rect x="616.5" y="551.6" width="137.3" height="32.9" rx="16.4" fill="#178bd0"/><circle cx="632.2" cy="568.1" r="12.7" fill="#f6fbff"/><circle cx="659.9" cy="568.1" r="12.7" fill="#f6fbff"/><g fill="none" stroke="#3b9bdb" stroke-width="0.9" stroke-linejoin="round" stroke-linecap="round"><path d="M632.2 558.2 Q633.7 558.6 633.7 561 L633.7 565.2 L641.4 569.2 L641.4 571.6 L633.7 569.8 L633.7 574.6 L635.6 576 L635.6 577.3 L632.2 576.6 L628.8 577.3 L628.8 576 L630.7 574.6 L630.7 569.8 L623 571.6 L623 569.2 L630.7 565.2 L630.7 561 Q630.7 558.6 632.2 558.2 Z"/><path d="M652.6 567.6 L659.9 565.4 L667.2 567.6 L665.9 574.6 M654 574.6 L652.6 567.6 M654.9 566.9 V562.3 H664.9 V566.9 M657.4 562.3 V560.3 H662.4 V562.3 M659.9 560.3 V558.6 M659.9 565.4 V573.8 M651.8 575.6 Q653.8 573.6 655.8 575 Q657.9 576.4 659.9 575 Q661.9 573.6 664 575 Q666 576.4 668 575.6"/></g>
</svg>
<div class="lb" style="left:553.7px;top:150.7px;width:48.8px;height:48.8px"><b>경기</b><i>54,864</i><s>(+469)</s></div>
<div class="lb" style="left:629.5px;top:185.2px;width:41.1px;height:48.3px"><b>강원</b><i>4,434</i><s>(+47)</s></div>
<div class="lb" style="left:480.3px;top:211px;width:40.2px;height:47.2px"><b>인천</b><i>8,845</i><s>(+96)</s></div>
<div class="lb" style="left:555.9px;top:210.8px;width:48.4px;height:47.4px"><b>서울</b><i>63,396</i><s>(+515)</s></div>
<div class="lb" style="left:595.9px;top:253.2px;width:41.5px;height:47.6px"><b>충북</b><i>3,794</i><s>(+30)</s></div>
<div class="lb" style="left:535.2px;top:277.4px;width:31.6px;height:46.8px"><b>세종</b><i>720</i><s>(+5)</s></div>
<div class="lb" style="left:491.3px;top:319.4px;width:39.5px;height:47.6px"><b>충남</b><i>4,846</i><s>(+47)</s></div>
<div class="lb" style="left:574.7px;top:316px;width:42px;height:48px"><b>대전</b><i>4,018</i><s>(+69)</s></div>
<div class="lb" style="left:648.9px;top:300.8px;width:41.6px;height:47.2px"><b>경북</b><i>5,400</i><s>(+22)</s></div>
<div class="lb" style="left:665px;top:359.7px;width:48px;height:48.4px"><b>대구</b><i>11,561</i><s>(+56)</s></div>
<div class="lb" style="left:536px;top:380.8px;width:42px;height:47.4px"><b>전북</b><i>2,730</i><s>(+31)</s></div>
<div class="lb" style="left:530px;top:451px;width:41.5px;height:48.5px"><b>광주</b><i>3,353</i><s>(+39)</s></div>
<div class="lb" style="left:484.7px;top:472.2px;width:36.5px;height:48.2px"><b>전남</b><i>2,003</i><s>(+20)</s></div>
<div class="lb" style="left:613.3px;top:434px;width:41.9px;height:49px"><b>경남</b><i>7,006</i><s>(+90)</s></div>
<div class="lb" style="left:712px;top:438.4px;width:41.3px;height:48.6px"><b>울산</b><i>3,171</i><s>(+14)</s></div>
<div class="lb" style="left:676.7px;top:477.6px;width:41.7px;height:48.2px"><b>부산</b><i>8,056</i><s>(+82)</s></div>
<div class="lb" style="left:493.8px;top:560px;width:41px;height:47px"><b>제주</b><i>1,688</i><s>(+24)</s></div>
<div class="lb" style="left:691px;top:534.5px;width:41.1px;height:46.3px"><b>검역</b><i>5,214</i><s>(+18)</s></div>
<div class="t" style="left:465.5px;top:88.5px;font-size:12.3px;font-weight:700;color:#17355f;letter-spacing:-0.35px">지역별 거리 두기 단계</div>
<div class="t" style="left:578.5px;top:90px;font-size:10.5px;color:#777;letter-spacing:-0.5px">07.28. 00시 기준</div>
<div class="t" style="left:677px;top:88.5px;font-size:12.3px;font-weight:700;color:#fff;letter-spacing:-0.35px">시도별 확진환자 현황</div>
<div class="t" style="left:787.5px;top:90px;font-size:10.5px;color:#e4ebf4;letter-spacing:-0.25px">07.29. 00시 기준, '20.1.3. 이후 누계</div>
<div class="abs" style="left:448.3px;top:134.5px;width:11.4px;height:11.4px;border:1px solid #f0a070;border-radius:50%;color:#f0a070;font-size:8px;line-height:9.4px;text-align:center">i</div>
<div class="t" style="left:467px;top:132.5px;font-size:9.6px;color:#333;letter-spacing:-0.35px">시도를 클릭하시면 상세 현황을 확인할 수 있습니다.</div>
<div class="t" style="left:467.5px;top:143.5px;font-size:9.6px;color:#555;letter-spacing:-0.35px">( ) 숫자는 전일대비 증감수치</div>
<div class="t" style="left:800px;top:135.3px;font-size:22px;font-weight:700;color:#000;letter-spacing:-1.2px">전국</div>
<div class="t" style="left:861px;top:140.8px;font-size:11.7px;font-weight:700;color:#222;letter-spacing:-0.55px">국내 발생비율</div>
<div class="abs" style="left:927.5px;top:139.5px;width:12.5px;height:12.5px;border-radius:50%;background:#146a63;color:#fff;font-size:9.5px;font-weight:700;line-height:12.5px;text-align:center">?</div>
<svg class="abs" style="left:0;top:0" width="992" height="700" viewBox="0 0 992 700"><path d="M880 235.5 L880.00 199.20 A36.3 36.3 0 0 1 912.35 251.96 Z" fill="#1ba9e6"/><path d="M880 235.5 L912.35 251.96 A36.3 36.3 0 0 1 856.13 262.85 Z" fill="#e9eaeb"/><path d="M880 235.5 L856.13 262.85 A36.3 36.3 0 0 1 857.82 206.76 Z" fill="#a3a3a3"/><path d="M880 235.5 L857.82 206.76 A36.3 36.3 0 0 1 869.81 200.66 Z" fill="#6b6b6b"/><path d="M880 235.5 L869.81 200.66 A36.3 36.3 0 0 1 880.00 199.20 Z" fill="#bdbdbd"/></svg>
<div class="t c" style="left:933.5px;top:191.4px;font-size:10.8px;color:#333;letter-spacing:-0.4px">서울</div>
<div class="t c" style="left:934.8px;top:206.9px;font-size:10px;color:#333;letter-spacing:-0.4px">32.49 %</div>
<div class="t c" style="left:822px;top:221.20000000000002px;font-size:10.8px;color:#333;letter-spacing:-0.4px">경기</div>
<div class="t c" style="left:823.6px;top:236.4px;font-size:10px;color:#333;letter-spacing:-0.4px">28.12 %</div>
<div class="t c" style="left:893px;top:279.9px;font-size:10px;color:#333;letter-spacing:-0.4px">기타 28.93 %</div>
<div class="t c" style="left:854px;top:169.4px;font-size:10.8px;color:#333;letter-spacing:-0.4px">대구</div>
<div class="t c" style="left:855px;top:185.4px;font-size:10px;color:#333;letter-spacing:-0.4px">5.93 %</div>
<div class="t c" style="left:871px;top:178.1px;font-size:10px;color:#333;letter-spacing:-0.4px">인천 4.53 %</div>
<div class="sl" style="top:315.0px;color:#222;font-size:11.5px">누적 확진환자</div><div class="sv" style="top:311.0px">195,099 <span>명</span></div>
<div class="sl" style="top:354.0px;color:#222;font-size:11.5px">격리중</div><div class="sv" style="top:350.0px">21,455 <span>명</span></div>
<div class="sl" style="top:377.8px;color:#222;font-size:11.5px">누적 격리해제</div><div class="sv" style="top:373.8px">171,559 <span>명</span></div>
<div class="sl" style="top:401.5px;color:#222;font-size:11.5px">사망자</div><div class="sv" style="top:397.5px">2,085 <span>명</span></div>
<div class="sl" style="top:424.6px;color:#777;font-size:10px">10만명당 발생률</div><div class="sv" style="top:420.6px">376.43 <span>명</span></div>
<div class="sl" style="top:335px;font-size:10px;color:#1d9fd8">전일 대비 증감</div><div class="t" style="right:29px;top:333.5px;font-size:10px;color:#1d9fd8;letter-spacing:-0.3px">(+1674)</div>
</div>
<!--RIGHT_END-->
</div>

<!-- ===== Heading 2 ===== -->
<div class="cb" style="top:653px"></div>
<div class="h" style="top:648.5px">제주특별자치도 발생 동향</div>

<!-- ===== Jeju cards ===== -->
<div class="abs" style="right:24px;top:676px;font-size:11.4px;line-height:14.8px;color:#333;text-align:right;letter-spacing:0.3px;white-space:nowrap">2021. 7. 29. 0<span style="letter-spacing:0.9px">시 기준</span><br><span style="word-spacing:2.2px">* <span style="letter-spacing:1px">매일 </span>10<span style="letter-spacing:1px">시 업데이트</span></span></div>
<div class="card" style="left:25px;background:linear-gradient(160deg,#4d45b9,#4a43b4)"><div class="ti">확진</div><div class="nu">1,688</div><div class="na">(전국 195,099)</div></div>
<div class="card" style="left:143.5px;background:linear-gradient(160deg,#5b980a,#58940a)"><div class="ti">격리해제</div><div class="su">(완치)</div><div class="nu">1,489</div><div class="na">(전국 171,559)</div></div>
<div class="card" style="left:262px;background:linear-gradient(160deg,#d6200d,#d01e0c)"><div class="ti">사망</div><div class="nu">1</div><div class="na">(전국 2,085)</div></div>
<div class="card" style="left:381px;background:linear-gradient(160deg,#dc640e,#d65e0c)"><div class="ti">검사진행</div><div class="nu">646</div><div class="na">(전국 342,326)</div></div>
<div class="card" style="left:500px;background:linear-gradient(160deg,#1c8af0,#1a82ea)"><div class="ti">자가격리</div><div class="su">(확진자 접촉)</div><div class="nu">1,197</div></div>
<div class="card" style="left:618.5px;background:linear-gradient(160deg,#8214f0,#7c12ea)"><div class="ti">자가격리</div><div class="su">(해외입국)</div><div class="nu">548</div></div>
<div class="card" style="left:737px;background:linear-gradient(160deg,#22c2cb,#1cbcc6)"><div class="ti">백신</div><div class="su">(접종자수)</div><div class="nu">237,229</div><div class="na">(전국 18,382,137)</div></div>
<div class="card" style="left:856px;background:linear-gradient(160deg,#16b8c4,#12b2be)"><div class="ti">백신2차</div><div class="su">(접종자수)</div><div class="nu">91,326</div><div class="na">(전국 7,018,654)</div></div>


<!-- ===== Heading 3 ===== -->
<div class="cb" style="top:911px"></div>
<div class="h" style="top:906.5px">학내 발생 동향</div>

<!-- ===== School table ===== -->
<table id="tb">
<colgroup><col style="width:172px"><col style="width:110.5px"><col style="width:109px"><col style="width:128px"><col style="width:107px"><col style="width:107px"><col style="width:107.5px"><col style="width:106px"></colgroup>
<tr style="height:28.5px"><th rowspan="2" class="br" style="border-top:2px solid #000;font-size:18px;letter-spacing:2px">구분</th><th colspan="3" class="br" style="border-top:2px solid #000;letter-spacing:2px;word-spacing:2px">확진자 (명)</th><th colspan="4" style="border-top:2px solid #000;letter-spacing:1.5px;word-spacing:5px">밀접 접촉자(명)</th></tr>
<tr style="height:27.5px"><th>양성</th><th style="font-weight:500;letter-spacing:1.8px">격리치료 중</th><th class="br" style="font-weight:700;letter-spacing:0.55px">격리해제(완치)</th><th style="letter-spacing:2px">음성</th><th style="letter-spacing:2px">검사중</th><th style="letter-spacing:2px">자가격리</th><th style="letter-spacing:2.4px">격리해제</th></tr>
<tr style="height:29.8px"><td class="br">2020.2.10.&nbsp; ~ 12.31.</td><td>3</td><td></td><td class="br">3</td><td>38</td><td></td><td></td><td>38</td></tr>
<tr style="height:29.9px"><td class="br">2021.1.1.&nbsp; ~ &nbsp;1.31.</td><td>1</td><td></td><td class="br">1</td><td>19</td><td></td><td></td><td>19</td></tr>
<tr style="height:29.8px"><td class="br">2021.2.1.&nbsp; ~ &nbsp;2.28.</td><td>1</td><td></td><td class="br">1</td><td>0</td><td></td><td></td><td>0</td></tr>
<tr style="height:29.5px"><td class="br">2021.3.1.&nbsp; ~ &nbsp;3.31.</td><td>3</td><td></td><td class="br">3</td><td>96</td><td></td><td></td><td>96</td></tr>
<tr style="height:30px"><td class="br">2021.4.1.&nbsp; ~ &nbsp;4.30.</td><td>0</td><td></td><td class="br">0</td><td>1</td><td></td><td></td><td>1</td></tr>
<tr style="height:30px"><td class="br">2021.5.1.&nbsp; ~ &nbsp;5.31.</td><td>25</td><td></td><td class="br">25</td><td>85</td><td></td><td></td><td>85</td></tr>
<tr style="height:30.2px"><td class="br">2021.6.1.&nbsp; ~ &nbsp;6.30.</td><td>6</td><td></td><td class="br">6</td><td>17</td><td></td><td></td><td>17</td></tr>
<tr style="height:28px"><td class="br">2021.7.10.</td><td>1</td><td>1</td><td class="br"></td><td>6</td><td></td><td></td><td>6</td></tr>
<tr style="height:27.3px"><td class="br">2021.7.15.</td><td></td><td></td><td class="br"></td><td>2</td><td></td><td></td><td>2</td></tr>
<tr style="height:49px"><td class="br">2021.7.20.</td><td></td><td></td><td class="br"></td><td style="font-size:13.5px;line-height:23.5px;letter-spacing:0.2px;padding-right:8px"><span style="font-size:16.5px">1</span>(접촉일<br>7월9일)</td><td></td><td></td><td>1</td></tr>
<tr class="tot" style="height:29.5px"><td class="br" style="border-bottom:2.5px solid #000;font-size:18px">계</td><td style="border-bottom:2.5px solid #000">40</td><td style="border-bottom:2.5px solid #000">1</td><td class="br" style="border-bottom:2.5px solid #000">39</td><td style="border-bottom:2.5px solid #000">265</td><td style="border-bottom:2.5px solid #000">0</td><td style="border-bottom:2.5px solid #000">0</td><td style="border-bottom:2.5px solid #000">265</td></tr>
</table>


</body>
</html>
